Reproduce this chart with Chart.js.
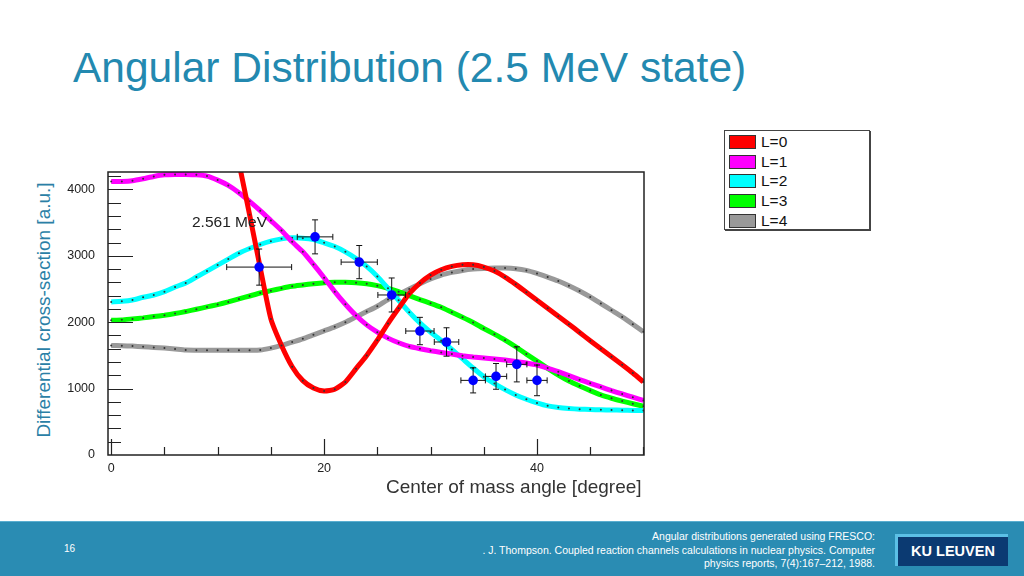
<!DOCTYPE html>
<html>
<head>
<meta charset="utf-8">
<script src="https://cdn.jsdelivr.net/npm/chart.js@4/dist/chart.umd.min.js"></script>
<style>
    body { margin: 0; width: 1024px; height: 576px; position: relative; overflow: hidden; background: #fff; font-family: Arial, "Liberation Sans", sans-serif; }
    .title { position: absolute; left: 73px; top: 47px; font-size: 42.5px; line-height: 1; color: #2389b0; white-space: nowrap; }
    .ytitle { position: absolute; left: 44px; top: 310px; transform: translate(-50%, -50%) rotate(-90deg); font-size: 19px; color: #2b7fa6; white-space: nowrap; }
    .xtitle { position: absolute; left: 386px; top: 476px; font-size: 19px; color: #333; white-space: nowrap; }
    .note { position: absolute; left: 192px; top: 213px; font-size: 15.5px; color: #222; white-space: nowrap; }
    #wrap { position: absolute; left: 0; top: 160px; width: 660px; height: 320px; }
    .legend { position: absolute; left: 724px; top: 130px; width: 144px; height: 98px; border: 1px solid #444; box-shadow: 1px 1px 0 #444; background: #fff; }
    .legend .row { position: absolute; left: 4px; height: 16px; font-size: 15.5px; line-height: 16px; color: #111; }
    .legend .sw { display: inline-block; width: 25px; height: 12px; border: 1px solid #333; vertical-align: top; margin-top: 1px; margin-right: 5px; }
    .footer { position: absolute; left: 0; top: 521px; width: 1024px; height: 55px; background: #2a8cb3; border-top: 1px solid #5aaed0; }
    .page { position: absolute; left: 64px; top: 21px; font-size: 10px; color: #fff; }
    .cite { position: absolute; right: 149px; top: 8px; font-size: 10.5px; line-height: 13.5px; color: #fff; text-align: right; white-space: nowrap; }
    .logo { position: absolute; left: 895px; top: 12px; width: 110px; height: 29px; background: #0b3a72; border-left: 3px solid #5cc0e6; border-top: 3px solid #5cc0e6; color: #fff; font-weight: bold; font-size: 14.5px; line-height: 29px; text-align: center; }
</style>
</head>
<body>
<div class="title">Angular Distribution (2.5 MeV state)</div>
<div class="ytitle">Differential cross-section [a.u.]</div>
<div id="wrap"><canvas id="chart"></canvas></div>
<div class="note">2.561 MeV</div>
<div class="xtitle">Center of mass angle [degree]</div>
<div class="legend" id="legend"></div>
<div class="footer">
    <div class="page">16</div>
    <div class="cite">Angular distributions generated using FRESCO:<br>. J. Thompson. Coupled reaction channels calculations in nuclear physics. Computer<br>physics reports, 7(4):167–212, 1988.</div>
    <div class="logo">KU LEUVEN</div>
</div>
<script>
const angles = [0, 1, 2, 3, 4, 5, 6, 7, 8, 9, 10, 11, 12, 13, 14, 15, 16, 17, 18, 19, 20, 21, 22, 23, 24, 25,
    26, 27, 28, 29, 30, 31, 32, 33, 34, 35, 36, 37, 38, 39, 40, 41, 42, 43, 44, 45, 46, 47, 48, 49, 50];
const xTicks = [0, 20, 40];
const yTicks = [0, 1000, 2000, 3000, 4000];

// L=0 runs off the top of the frame below ~11 degrees
const l0 = [null, null, null, null, null, null, null, null, null, null, null, 5150, 4400, 3620, 2820, 2050,
    1650, 1330, 1120, 1010, 965, 990, 1100, 1300, 1500, 1730, 1980, 2210, 2430, 2590, 2710, 2790, 2840, 2865,
    2865, 2830, 2770, 2680, 2570, 2450, 2330, 2210, 2090, 1970, 1845, 1720, 1600, 1480, 1360, 1235, 1100];
const l1 = [4120, 4120, 4130, 4160, 4195, 4220, 4225, 4225, 4220, 4200, 4140, 4060, 3950, 3820, 3680, 3530,
    3380, 3210, 3060, 2870, 2670, 2460, 2270, 2100, 1960, 1850, 1760, 1690, 1635, 1600, 1570, 1545, 1520, 1495,
    1475, 1460, 1445, 1430, 1410, 1385, 1355, 1310, 1255, 1195, 1135, 1080, 1025, 970, 920, 870, 822];
const l2 = [2305, 2315, 2335, 2375, 2410, 2460, 2530, 2590, 2680, 2770, 2860, 2950, 3040, 3110, 3170, 3220,
    3255, 3270, 3265, 3245, 3195, 3140, 3060, 2960, 2840, 2690, 2510, 2330, 2150, 1990, 1850, 1725, 1590, 1450,
    1310, 1180, 1075, 985, 905, 840, 785, 740, 715, 700, 690, 685, 680, 677, 675, 672, 670];
const l3 = [2030, 2035, 2050, 2065, 2085, 2105, 2130, 2160, 2195, 2230, 2265, 2305, 2350, 2395, 2440, 2475,
    2510, 2540, 2560, 2580, 2595, 2600, 2600, 2595, 2580, 2550, 2510, 2460, 2400, 2340, 2285, 2225, 2150, 2075,
    1995, 1905, 1820, 1730, 1630, 1520, 1415, 1305, 1205, 1115, 1040, 970, 905, 855, 812, 772, 735];
const l4 = [1650, 1645, 1640, 1630, 1620, 1610, 1595, 1580, 1578, 1577, 1576, 1576, 1576, 1576, 1580, 1610,
    1650, 1700, 1750, 1810, 1870, 1930, 2000, 2080, 2160, 2240, 2340, 2420, 2500, 2580, 2650, 2710, 2750, 2780,
    2800, 2810, 2815, 2815, 2805, 2780, 2735, 2680, 2620, 2550, 2470, 2380, 2280, 2180, 2080, 1970, 1855];

const dataAngle = [13.9, 19.15, 23.3, 26.35, 29.0, 31.5, 34.0, 36.15, 38.1, 40.0];
const dataValue = [2830, 3285, 2905, 2410, 1867, 1702, 1124, 1184, 1365, 1124];
const angleErr = [3.05, 1.67, 1.7, 1.3, 1.33, 1.15, 1.15, 1.0, 0.95, 0.95];
const valueErr = [272, 256, 250, 256, 206, 214, 189, 194, 264, 231];

const seriesNames = ['L=0', 'L=1', 'L=2', 'L=3', 'L=4'];
const seriesColors = ['#ff0000', '#ff00ff', '#00ffff', '#00ff00', '#999999'];
const seriesValues = [l0, l1, l2, l3, l4];

const legendBox = document.getElementById('legend');
seriesNames.forEach((name, i) => {
    const row = document.createElement('div');
    row.className = 'row';
    row.style.top = (3 + i * 19.7) + 'px';
    row.innerHTML = `<span class="sw" style="background:${seriesColors[i]}"></span>${name}`;
    legendBox.appendChild(row);
});

const curveSets = seriesValues.map((values, i) => ({
    label: seriesNames[i],
    data: angles.map((a, j) => ({ x: a, y: values[j] })),
    borderColor: seriesColors[i],
    borderWidth: 5,
    pointRadius: 1,
    pointBackgroundColor: '#333',
    pointBorderWidth: 0,
    tension: 0.2,
    spanGaps: false,
    clip: 0,
    order: i + 1
}));

const frameAndErrors = {
    id: 'frameAndErrors',
    beforeDatasetDraw(chart, args) {
        if (args.index !== 0) {
            return;
        }
        const { ctx, scales: { x, y } } = chart;
        ctx.save();
        ctx.strokeStyle = '#111';
        ctx.lineWidth = 1;
        dataAngle.forEach((a, i) => {
            const px = x.getPixelForValue(a);
            const py = y.getPixelForValue(dataValue[i]);
            const x0 = x.getPixelForValue(a - angleErr[i]);
            const x1 = x.getPixelForValue(a + angleErr[i]);
            const y0 = y.getPixelForValue(dataValue[i] - valueErr[i]);
            const y1 = y.getPixelForValue(dataValue[i] + valueErr[i]);
            ctx.beginPath();
            ctx.moveTo(x0, py); ctx.lineTo(x1, py);
            ctx.moveTo(x0, py - 3); ctx.lineTo(x0, py + 3);
            ctx.moveTo(x1, py - 3); ctx.lineTo(x1, py + 3);
            ctx.moveTo(px, y0); ctx.lineTo(px, y1);
            ctx.moveTo(px - 3, y0); ctx.lineTo(px + 3, y0);
            ctx.moveTo(px - 3, y1); ctx.lineTo(px + 3, y1);
            ctx.stroke();
        });
        ctx.restore();
    },
    afterDraw(chart) {
        const { ctx, chartArea: area, scales: { x, y } } = chart;
        ctx.save();
        ctx.strokeStyle = '#222';
        ctx.lineWidth = 1.5;
        ctx.strokeRect(area.left, area.top, area.right - area.left, area.bottom - area.top);
        ctx.lineWidth = 1.2;
        ctx.beginPath();
        for (let v = 200; v <= 4200; v += 200) {
            const py = Math.round(y.getPixelForValue(v)) + 0.5;
            const len = v % 1000 === 0 ? 25 : 13;
            ctx.moveTo(area.left, py);
            ctx.lineTo(area.left + len, py);
        }
        for (let a = 0; a <= 50; a += 5) {
            const px = Math.round(x.getPixelForValue(a)) + 0.5;
            const len = a % 20 === 0 ? 16 : 8;
            ctx.moveTo(px, area.bottom);
            ctx.lineTo(px, area.bottom - len);
        }
        ctx.stroke();
        ctx.restore();
    }
};

const tickFont = { family: 'Arial, "Liberation Sans", sans-serif', size: 12.5 };

new Chart(document.getElementById('chart'), {
    type: 'line',
    data: {
        datasets: [
            {
                type: 'scatter',
                label: 'data',
                data: dataAngle.map((a, i) => ({ x: a, y: dataValue[i] })),
                pointRadius: 4.8,
                pointBackgroundColor: '#0000ff',
                pointBorderColor: '#0000ff',
                pointBorderWidth: 0,
                order: 0
            },
            ...curveSets
        ]
    },
    options: {
        responsive: true,
        maintainAspectRatio: false,
        animation: false,
        layout: { padding: { top: 12, right: 16, bottom: 4, left: 0 } },
        plugins: { legend: { display: false }, tooltip: { enabled: false } },
        scales: {
            x: {
                type: 'linear',
                min: -0.3,
                max: 50.05,
                grid: { display: false, drawTicks: true, tickLength: 6 },
                border: { display: false },
                afterFit(scale) { scale.height = 21; },
                afterBuildTicks(scale) { scale.ticks = xTicks.map((v) => ({ value: v })); },
                ticks: { autoSkip: false, maxRotation: 0, padding: 0, color: '#222', font: tickFont }
            },
            y: {
                min: 0,
                max: 4262,
                grid: { display: false, drawTicks: true, tickLength: 13 },
                border: { display: false },
                afterFit(scale) { scale.width = 108; },
                afterBuildTicks(scale) { scale.ticks = yTicks.map((v) => ({ value: v })); },
                ticks: { autoSkip: false, padding: 0, color: '#222', font: tickFont, callback: (v) => String(v) }
            }
        }
    },
    plugins: [frameAndErrors]
});
</script>
</body>
</html>
